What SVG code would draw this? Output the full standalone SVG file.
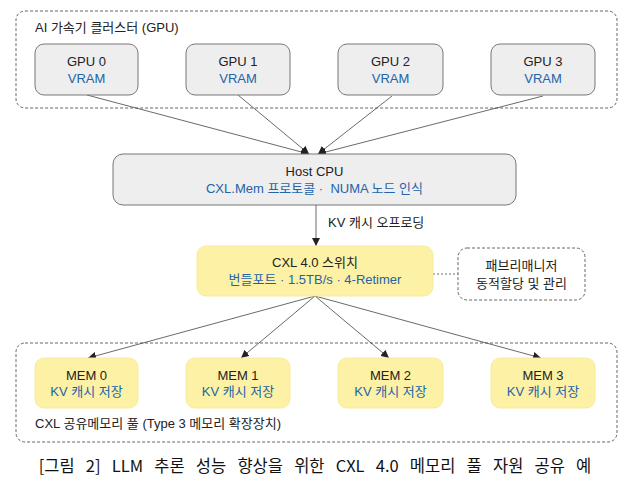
<svg xmlns="http://www.w3.org/2000/svg" width="628" height="483" viewBox="0 0 628 483">
<defs>
<style>
.t{font-family:"Liberation Sans","Noto Sans CJK KR",sans-serif;font-size:13px;fill:#222;text-anchor:middle}
.b{fill:#2463a8}
.l{text-anchor:start}
.grp{fill:#fff;stroke:#666;stroke-width:1;stroke-dasharray:3 2}
.gpu{fill:#eeeeee;stroke:#777;stroke-width:1}
.mem{fill:#fdf1a6;stroke:#f6ec9c;stroke-width:1}
.e{stroke:#444;stroke-width:0.8;fill:none}
.cap{font-family:"Noto Sans CJK KR","Liberation Sans",sans-serif;font-size:16.5px;fill:#111;text-anchor:middle;word-spacing:7.5px}
</style>
<marker id="ah" viewBox="0 0 10 10" refX="10" refY="5" markerWidth="8" markerHeight="8" markerUnits="userSpaceOnUse" orient="auto">
<path d="M0,0 L10,5 L0,10 z" fill="#222"/>
</marker>
</defs>
<rect width="628" height="483" fill="#fff"/>
<g id="cluster-gpu">
<rect class="grp" x="16" y="11" width="601" height="97" rx="9"/>
<text class="t l" x="35" y="32">AI 가속기 클러스터 (GPU)</text>
</g>
<g id="cluster-mem">
<rect class="grp" x="16" y="343" width="601" height="99" rx="9"/>
<text class="t l" x="35" y="428">CXL 공유메모리 풀 (Type 3 메모리 확장장치)</text>
</g>
<g id="connectors">
<line class="e" x1="87" y1="95" x2="309" y2="154" marker-end="url(#ah)"/>
<line class="e" x1="238" y1="95" x2="309" y2="154" marker-end="url(#ah)"/>
<line class="e" x1="392" y1="96" x2="318" y2="154" marker-end="url(#ah)"/>
<line class="e" x1="543" y1="96" x2="318" y2="154" marker-end="url(#ah)"/>
<line class="e" x1="316" y1="205" x2="316" y2="246" marker-end="url(#ah)"/>
<text class="t l" x="328" y="227">KV 캐시 오프로딩</text>
<line x1="433" y1="274" x2="458" y2="274" stroke="#444" stroke-width="0.8" stroke-dasharray="2 2"/>
<line class="e" x1="315" y1="296" x2="88" y2="358" marker-end="url(#ah)"/>
<line class="e" x1="315" y1="296" x2="241" y2="358" marker-end="url(#ah)"/>
<line class="e" x1="315" y1="296" x2="389" y2="358" marker-end="url(#ah)"/>
<line class="e" x1="315" y1="296" x2="541" y2="358" marker-end="url(#ah)"/>
</g>
<g id="gpu0">
<rect class="gpu" x="35" y="44" width="103" height="51" rx="9"/>
<text class="t" x="86.5" y="66">GPU 0</text>
<text class="t b" x="86.5" y="83">VRAM</text>
</g>
<g id="gpu1">
<rect class="gpu" x="186" y="44" width="104" height="51" rx="9"/>
<text class="t" x="238" y="66">GPU 1</text>
<text class="t b" x="238" y="83">VRAM</text>
</g>
<g id="gpu2">
<rect class="gpu" x="338" y="44" width="105" height="51" rx="9"/>
<text class="t" x="390.5" y="66">GPU 2</text>
<text class="t b" x="390.5" y="83">VRAM</text>
</g>
<g id="gpu3">
<rect class="gpu" x="491" y="44" width="104" height="51" rx="9"/>
<text class="t" x="543" y="66">GPU 3</text>
<text class="t b" x="543" y="83">VRAM</text>
</g>
<g id="host-cpu">
<rect class="gpu" x="113" y="154" width="403" height="51" rx="10"/>
<text class="t" x="314.5" y="176">Host CPU</text>
<text class="t b" x="314.5" y="193">CXL.Mem 프로토콜 · &#160;NUMA 노드 인식</text>
</g>
<g id="cxl-switch">
<rect class="mem" x="197" y="246" width="236" height="50" rx="9"/>
<text class="t" x="315" y="267">CXL 4.0 스위치</text>
<text class="t b" x="315" y="284">번들포트 · 1.5TB/s · 4-Retimer</text>
</g>
<g id="fabric-manager">
<rect class="grp" x="458" y="248" width="127" height="52" rx="9"/>
<text class="t" x="521.5" y="270">패브리매니저</text>
<text class="t" x="521.5" y="288">동적할당 및 관리</text>
</g>
<g id="mem0">
<rect class="mem" x="35" y="358" width="103" height="50" rx="9"/>
<text class="t" x="86.5" y="380">MEM 0</text>
<text class="t b" x="86.5" y="396">KV 캐시 저장</text>
</g>
<g id="mem1">
<rect class="mem" x="186" y="358" width="104" height="50" rx="9"/>
<text class="t" x="238" y="380">MEM 1</text>
<text class="t b" x="238" y="396">KV 캐시 저장</text>
</g>
<g id="mem2">
<rect class="mem" x="338" y="358" width="105" height="50" rx="9"/>
<text class="t" x="390.5" y="380">MEM 2</text>
<text class="t b" x="390.5" y="396">KV 캐시 저장</text>
</g>
<g id="mem3">
<rect class="mem" x="491" y="358" width="104" height="50" rx="9"/>
<text class="t" x="543" y="380">MEM 3</text>
<text class="t b" x="543" y="396">KV 캐시 저장</text>
</g>
<text class="cap" x="315" y="472">[그림 2] LLM 추론 성능 향상을 위한 CXL 4.0 메모리 풀 자원 공유 예</text>
</svg>
